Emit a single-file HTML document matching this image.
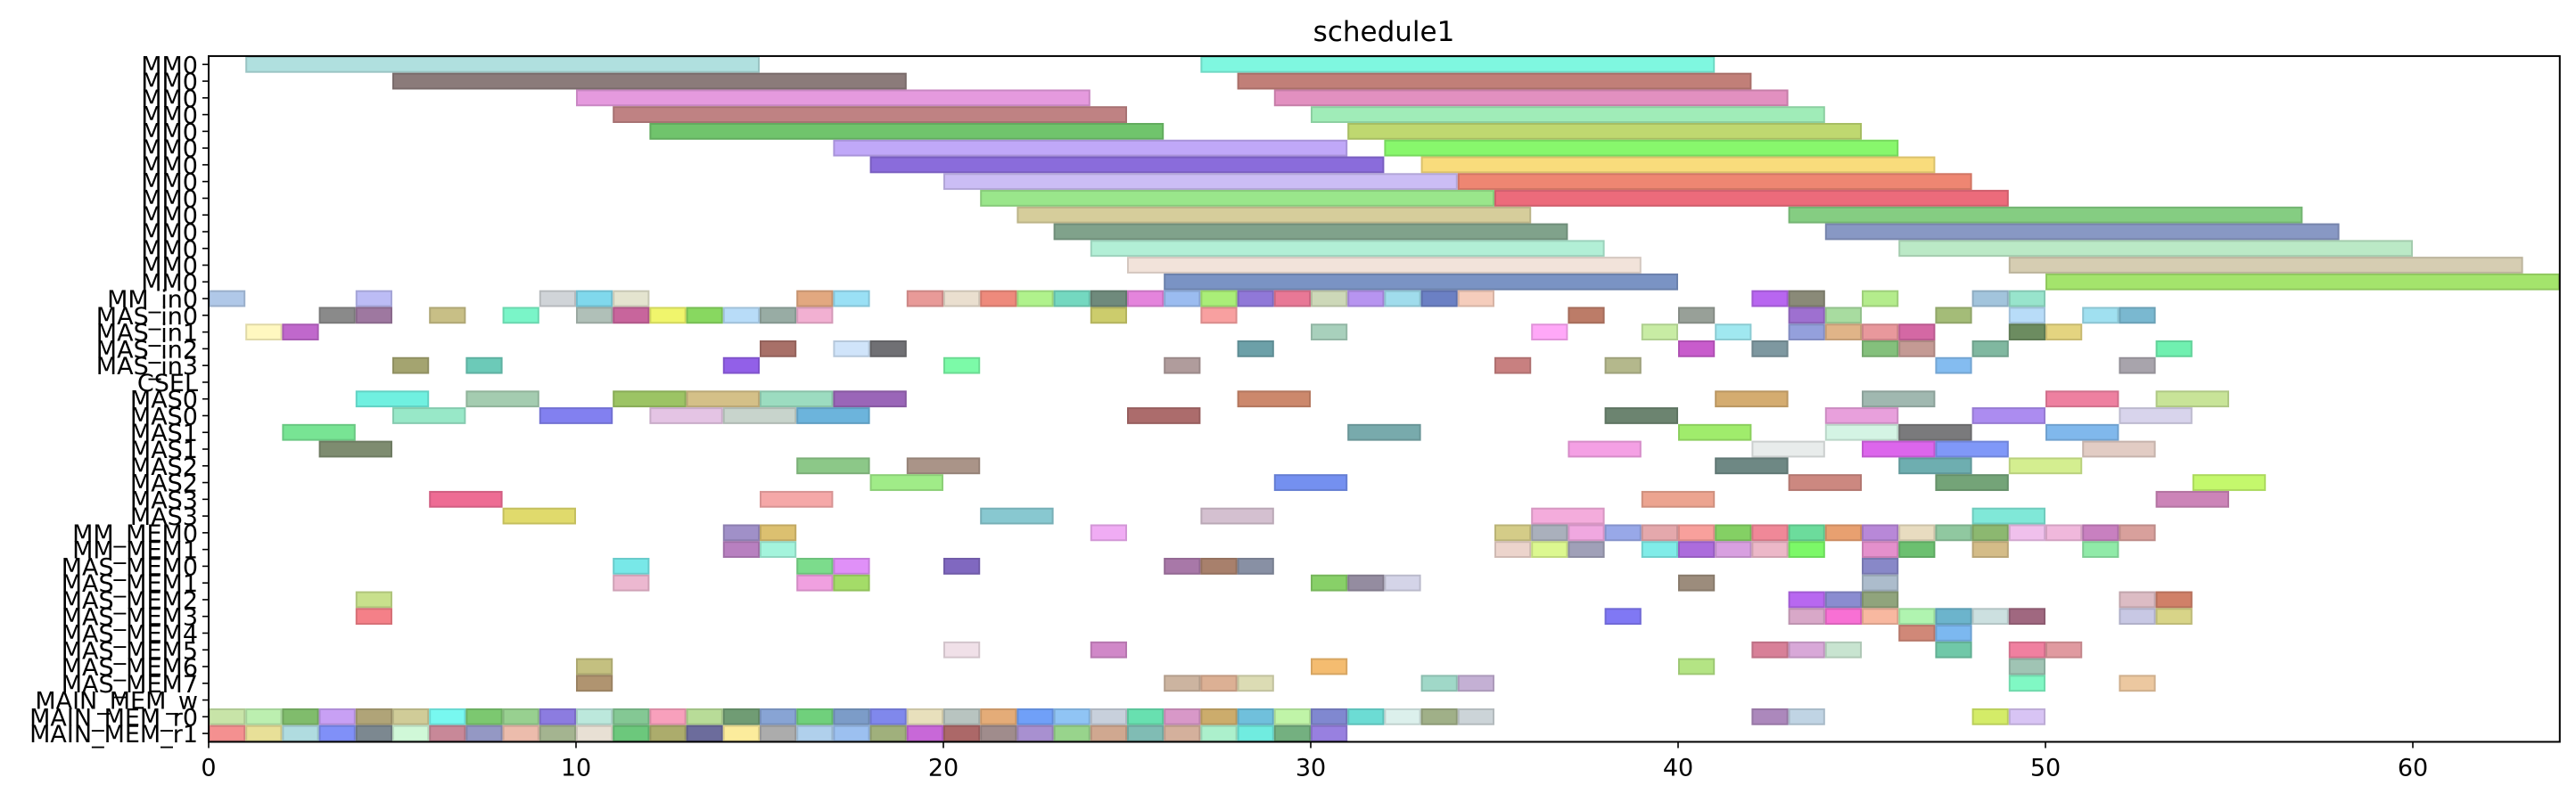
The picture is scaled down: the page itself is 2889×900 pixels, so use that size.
<!DOCTYPE html>
<html><head><meta charset="utf-8">
<style>
html,body{margin:0;padding:0;background:#fff;}
svg{display:block;font-family:"DejaVu Sans","Liberation Sans",sans-serif;}
</style></head>
<body>
<svg id="chart" width="2889" height="900" viewBox="0 0 2889 900" xmlns="http://www.w3.org/2000/svg">
<text x="1552" y="46" font-size="31" text-anchor="middle" fill="#000">schedule1</text>
<g id="bars"></g>
<g id="axes"></g>
</svg>
<script>
const rowLabels = ["MM0","MM0","MM0","MM0","MM0","MM0","MM0","MM0","MM0","MM0","MM0","MM0","MM0","MM0",
"MM_in0","MAS_in0","MAS_in1","MAS_in2","MAS_in3","CSEL","MAS0","MAS0","MAS1","MAS1","MAS2","MAS2","MAS3","MAS3",
"MM_MEM0","MM_MEM1","MAS_MEM0","MAS_MEM1","MAS_MEM2","MAS_MEM3","MAS_MEM4","MAS_MEM5","MAS_MEM6","MAS_MEM7",
"MAIN_MEM_w","MAIN_MEM_r0","MAIN_MEM_r1"];
const rowWidth = [14,14,14,14,14,14,14,14,14,14,14,14,14,14, 1,1,1,1,1,1, 2,2,2,2,2,2,2,2, 1,1,1,1,1,1,1,1,1,1,1,1,1];
const rowStarts = [
[1,27],[5,28],[10,29],[11,30],[12,31],[17,32],[18,33],[20,34],[21,35],[22,43],[23,44],[24,46],[25,49],[26,50],
[0,4,9,10,11,16,17,19,20,21,22,23,24,25,26,27,28,29,30,31,32,33,34,42,43,45,48,49],
[3,4,6,8,10,11,12,13,14,15,16,24,27,37,40,43,44,47,49,51,52],
[1,2,30,36,39,41,43,44,45,46,49,50],
[15,17,18,28,40,42,45,46,48,53],
[5,7,14,20,26,35,38,47,52],
[],
[4,7,11,13,15,17,28,41,45,50,53],
[5,9,12,14,16,25,38,44,48,52],
[2,31,40,44,46,50],
[3,37,42,45,47,51],
[16,19,41,46,49],
[18,29,43,47,54],
[6,15,39,53],
[8,21,27,36,48],
[14,15,24,35,36,37,38,39,40,41,42,43,44,45,46,47,48,49,50,51,52],
[14,15,35,36,37,39,40,41,42,43,45,46,48,51],
[11,16,17,20,26,27,28,45],
[11,16,17,30,31,32,40,45],
[4,43,44,45,52,53],
[4,38,43,44,45,46,47,48,49,52,53],
[46,47],
[20,24,42,43,44,47,49,50],
[10,30,40,49],
[10,26,27,28,33,34,49,52],
[],
[0,1,2,3,4,5,6,7,8,9,10,11,12,13,14,15,16,17,18,19,20,21,22,23,24,25,26,27,28,29,30,31,32,33,34,42,43,48,49],
[0,1,2,3,4,5,6,7,8,9,10,11,12,13,14,15,16,17,18,19,20,21,22,23,24,25,26,27,28,29,30]
];
const rowColors = [
['#b0e0df','#7ff7e0'],['#8b7b7a','#c17f78'],['#e59ade','#e290c0'],['#bf8283','#a0ecb8'],['#70c46c','#bfd870'],
['#c0a8f8','#88f76c'],['#8a6cdb','#f9dc7c'],['#cbbdf5','#ee8672'],['#9ae68b','#ec6b7b'],['#d6cd9b','#85cd82'],
['#80a28b','#8898c4'],['#b2efd6','#bbe9c6'],['#f2e3da','#d6cdb2'],['#7a93c4','#a4e46c'],
['#b0c8e8','#bcbcf5','#d0d4d8','#80d8ec','#e4e4cf','#e2a880','#9ae0f5','#e89a98','#eadfcf','#ee8a7c','#b0f28c','#74d8c0','#6f8a7c','#e484dc','#9bbcf0','#aaee78','#9078d8','#e87896','#cdd8b8','#b794f0','#a0dcec','#6b80c4','#f5cdbc','#b866f0','#8a8a78','#b4ec8c','#a2c4dc','#98e4cc'],
['#8a8a8a','#9e78a0','#c8bf86','#7af5c8','#b0c0b8','#c8659c','#f0f56c','#88d860','#b8dcf8','#98aca4','#f2b0d2','#cccc6c','#f8a0a0','#bc7c68','#98a098','#9e70d0','#a8dca0','#a4bc78','#b8dcf8','#a0e0f0','#7ab8d0'],
['#fff8c0','#c068cc','#a8d0bc','#ffa8f8','#c8eca4','#a0e8f0','#94a0dc','#e0b488','#e8989c','#d468a4','#6c8c60','#e4d480'],
['#a87068','#d0e4fa','#707074','#6ca0a8','#c85ccc','#7e98a0','#84c07c','#c49a94','#80b8a0','#70f0b0'],
['#a4a470','#6ccab8','#9260e8','#7cfaa8','#b09c9c','#c88080','#b4b88c','#84bcf0','#a8a4ac'],
[],
['#70f0e0','#a4ccb0','#9cc464','#d4c088','#9cdcc0','#9a66b8','#cc886c','#d4ac70','#a0b8b0','#ee80a0','#c8e498'],
['#98e8c8','#8280f0','#e4c4e4','#c8d4cc','#6cb4dc','#ac6c6c','#6c8470','#e8a0dc','#ac8cf0','#d8d4ec'],
['#78e494','#78aaac','#a0ec6c','#d4f4e4','#7a7a7c','#80b8ec'],
['#7e8c70','#f4a0e4','#e8eceb','#dc66ec','#8098f8','#e2ccc4'],
['#8cc888','#aa9488','#6e8884','#6eaeb0','#d4ee90'],
['#a0ec88','#7490f0','#cc8880','#74a478','#c4f86c'],
['#ee6c94','#f5a8a8','#eca490','#cc84b8'],
['#e0da6c','#88c8d0','#d4c0d0','#f4acdc','#80e8d8'],
['#a090c8','#dcc070','#f0acf4','#d4cc88','#aab0bc','#f0a8e0','#98a8e8','#e4a8ac','#f8a09c','#84d064','#f08898','#6cdc9c','#e8a070','#b888d8','#e8dcc0','#90c8a0','#8cb870','#f0c0ec','#f0b8dc','#c880c0','#d8a09c'],
['#b880c0','#a4f4dc','#ecd4cc','#dcf890','#a0a0b8','#80ece8','#ac6cdc','#d8a0e0','#ecb8c8','#7cf868','#e490cc','#6cc070','#d4bc88','#90eaa8'],
['#78e8e8','#7cdc8c','#e090f8','#8068c0','#a878a8','#a8806c','#8890a4','#8888c8'],
['#ecb8d0','#f0a0e0','#a4dc68','#88d068','#948ca0','#d4d4e8','#9c8c7c','#acbccc'],
['#c8e08c','#b868f0','#8a8cd0','#90a47c','#dcbcc4','#d08068'],
['#f48088','#8078f4','#d8a8c8','#f870d4','#f8b8a0','#b0f4b0','#6cb4cc','#cce0e0','#a06880','#c8c8e4','#d8d488'],
['#d08878','#7cb8f0'],
['#f0e0e8','#d088c8','#d88098','#d8a8d8','#c8e4d0','#70c8a8','#f080a0','#e09aa0'],
['#c4c080','#f4bc70','#b4e484','#a0c4b4'],
['#b09470','#ccb4a0','#dcb094','#dcdcb4','#a0d8c8','#c4b0d4','#80f8c4','#ecc8a0'],
[],
['#c8e4a8','#bcefb0','#80bc6c','#c8a0f4','#b0a478','#d0cc98','#78f8f0','#7cc870','#98d090','#8c7ce0','#bce8dc','#84c894','#f8a0bc','#b8dc98','#709c74','#88a4d4','#70d07c','#7c9cc8','#8088ec','#e8e0bc','#b8c4c0','#e4ac78','#70a0f8','#90c4f4','#c8d0dc','#68e0b0','#d898c8','#ccac6c','#70c0dc','#c0f4a8','#8088d0','#6cdcd4','#dcf0ec','#a0b088','#ccd4d8','#ac88bc','#c0d4e4','#d4ec68','#d8c4f4'],
['#f49090','#e8e098','#b0dce0','#8090f8','#7c8890','#d0f8d8','#c88898','#9498c4','#ecbcac','#a4b490','#e8e0d4','#6cc87c','#acac6c','#6c6c9c','#fcec9c','#acacac','#b0d0ec','#9cc0f0','#a0b07c','#c868d8','#ac6868','#a08c8c','#a890d0','#98d48c','#d0a890','#80bcb4','#d4b09c','#acf0cc','#70ece0','#74b080','#9880e0']
];
const xTicks = [0,10,20,30,40,50,60];

const NS = "http://www.w3.org/2000/svg";
const X0 = 234, XPU = 41.2, XMAX = 64;
const Y0 = 72.3, YPR = 18.77;
function xs(v){ return X0 + v*XPU; }
function ys(r){ return Y0 + r*YPR; }
const axTop = ys(0) - YPR/2, axBot = ys(rowLabels.length-1) + YPR/2;

const gb = document.getElementById('bars');
rowStarts.forEach((starts, r) => {
  starts.forEach((s, k) => {
    const rect = document.createElementNS(NS, 'rect');
    
    
    const x1 = xs(s), x2 = xs(s + rowWidth[r]);
    rect.setAttribute('x', x1 + 1);
    rect.setAttribute('y', ys(r) - YPR/2 + 1);
    rect.setAttribute('width', x2 - x1 - 2);
    rect.setAttribute('height', YPR - 2);
    const c = rowColors[r][k] || '#cccccc';
    rect.setAttribute('fill', c);
    rect.setAttribute('stroke', c);
    rect.setAttribute('stroke-width', '2');
    rect.setAttribute('style', 'filter:brightness(1)');
    gb.appendChild(rect);
    const edge = document.createElementNS(NS, 'rect');
    
    
    edge.setAttribute('x', x1 + 1);
    edge.setAttribute('y', ys(r) - YPR/2 + 1);
    edge.setAttribute('width', x2 - x1 - 2);
    edge.setAttribute('height', YPR - 2);
    edge.setAttribute('fill', 'none');
    edge.setAttribute('stroke', 'rgba(0,0,0,0.12)');
    edge.setAttribute('stroke-width', '2');
    gb.appendChild(edge);
  });
});

const ga = document.getElementById('axes');
const frame = document.createElementNS(NS, 'rect');


frame.setAttribute('x', X0); frame.setAttribute('y', axTop);
frame.setAttribute('width', xs(XMAX) - X0); frame.setAttribute('height', axBot - axTop);
frame.setAttribute('fill', 'none'); frame.setAttribute('stroke', '#000'); frame.setAttribute('stroke-width', '2');
ga.appendChild(frame);

xTicks.forEach(t => {
  const ln = document.createElementNS(NS, 'line');
  
  
  ln.setAttribute('x1', xs(t)); ln.setAttribute('x2', xs(t));
  ln.setAttribute('y1', axBot); ln.setAttribute('y2', axBot + 7);
  ln.setAttribute('stroke', '#000'); ln.setAttribute('stroke-width', '1.6');
  ga.appendChild(ln);
  const tx = document.createElementNS(NS, 'text');
  
  
  tx.setAttribute('x', xs(t)); tx.setAttribute('y', axBot + 38);
  tx.setAttribute('font-size', '27'); tx.setAttribute('text-anchor', 'middle');
  tx.textContent = String(t);
  ga.appendChild(tx);
});

rowLabels.forEach((lab, r) => {
  const ln = document.createElementNS(NS, 'line');
  
  
  ln.setAttribute('x1', X0 - 7); ln.setAttribute('x2', X0);
  ln.setAttribute('y1', ys(r)); ln.setAttribute('y2', ys(r));
  ln.setAttribute('stroke', '#000'); ln.setAttribute('stroke-width', '1.6');
  ga.appendChild(ln);
  const tx = document.createElementNS(NS, 'text');
  
  
  tx.setAttribute('x', X0 - 12); tx.setAttribute('y', ys(r) + 10);
  tx.setAttribute('font-size', '27'); tx.setAttribute('text-anchor', 'end');
  tx.textContent = lab;
  ga.appendChild(tx);
});
</script>
</body></html>
